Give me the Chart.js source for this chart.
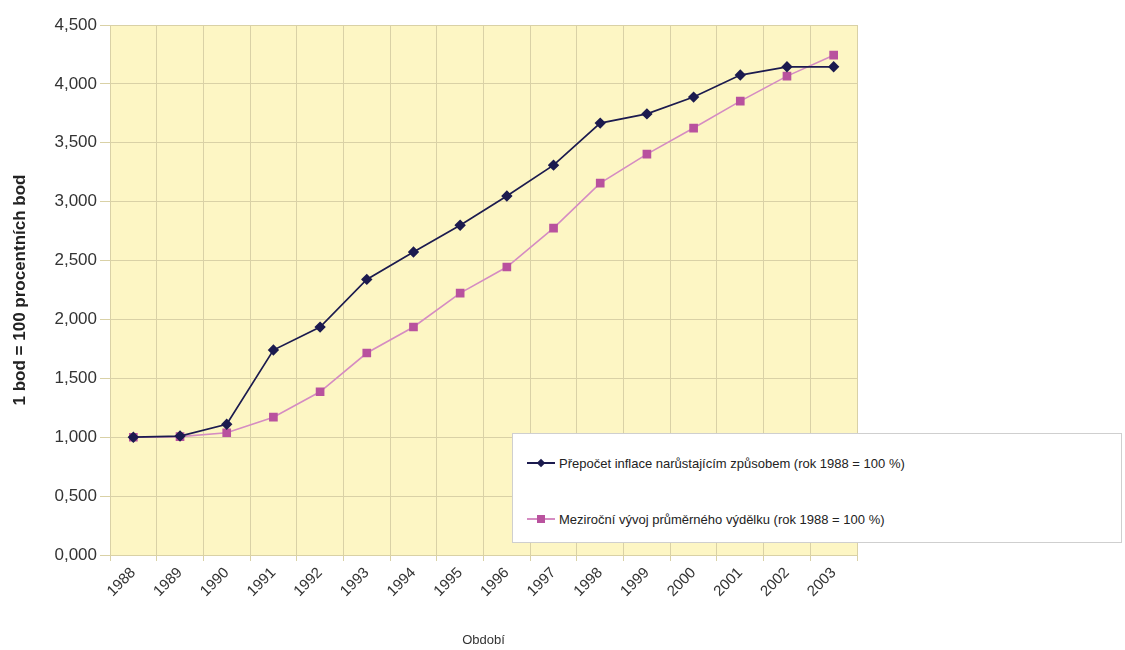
<!DOCTYPE html>
<html>
<head>
<meta charset="utf-8">
<script src="https://cdn.jsdelivr.net/npm/chart.js@4"></script>
<style>
  body { margin: 0; background: #fff; font-family: "Liberation Sans", Arial, sans-serif; }
  #wrap { position: relative; width: 1125px; height: 650px; }
  #legend {
    position: absolute; left: 512px; top: 433px; width: 610px; height: 110px;
    background: #fff; border: 1px solid #cfcfcf; box-sizing: border-box;
  }
  .item { position: absolute; left: 14px; height: 20px; display: flex; align-items: center; font-size: 13px; color: #222; }
  .sym { position: relative; width: 28px; height: 20px; margin-right: 4px; }
  .sym .ln { position: absolute; left: 0; right: 0; top: 9px; height: 2px; }
  .sym .mk { position: absolute; left: 10px; top: 6px; width: 8px; height: 8px; }
</style>
</head>
<body>
<div id="wrap">
  <canvas id="chart" width="1125" height="650"></canvas>
  <div id="legend"></div>
</div>
<script>
const years = ['1988', '1989', '1990', '1991', '1992', '1993', '1994', '1995',
               '1996', '1997', '1998', '1999', '2000', '2001', '2002', '2003'];
const inflaceLabel = 'Přepočet inflace narůstajícím způsobem (rok 1988 = 100 %)';
const inflace = [1.000, 1.010, 1.110, 1.740, 1.935, 2.340, 2.572, 2.800,
                 3.048, 3.310, 3.667, 3.745, 3.888, 4.075, 4.145, 4.145];
const vydelekLabel = 'Meziroční vývoj průměrného výdělku (rok 1988 = 100 %)';
const vydelek = [1.000, 1.005, 1.038, 1.170, 1.386, 1.715, 1.936, 2.224,
                 2.445, 2.776, 3.158, 3.404, 3.625, 3.854, 4.066, 4.244];
const yTitle = '1 bod = 100 procentních bod';
const xTitle = 'Období';

const navy = '#1c1b4f';
const pinkLine = '#d58cc2';
const pinkMark = '#b9529e';

const plotBackground = {
    id: 'plotBackground',
    beforeDraw(chart) {
        const a = chart.chartArea;
        const ctx = chart.ctx;
        ctx.save();
        ctx.fillStyle = '#fdf6c4';
        ctx.fillRect(a.left, a.top, a.right - a.left, a.bottom - a.top);
        ctx.restore();
    }
};

const ctx = document.getElementById('chart').getContext('2d');
const chart = new Chart(ctx, {
    type: 'line',
    data: {
        labels: years,
        datasets: [{
            label: inflaceLabel,
            data: inflace,
            borderColor: navy,
            backgroundColor: navy,
            borderWidth: 1.7,
            pointStyle: 'rectRot',
            pointRadius: 4.5,
            pointBackgroundColor: navy,
            pointBorderColor: navy,
            tension: 0
        }, {
            label: vydelekLabel,
            data: vydelek,
            borderColor: pinkLine,
            backgroundColor: pinkMark,
            borderWidth: 1.6,
            pointStyle: 'rect',
            pointRadius: 5,
            pointBackgroundColor: pinkMark,
            pointBorderColor: pinkMark,
            tension: 0
        }]
    },
    options: {
        responsive: false,
        animation: false,
        layout: { padding: { left: 6, right: 268, top: 25, bottom: 0 } },
        plugins: {
            legend: { display: false },
            tooltip: { enabled: false }
        },
        scales: {
            x: {
                offset: true,
                grid: { offset: true, color: '#d9d1a6', drawTicks: true, tickLength: 6 },
                border: { color: '#d9d1a6' },
                ticks: {
                    maxRotation: 45, minRotation: 45,
                    color: '#333', font: { family: 'Liberation Sans', size: 15 }
                },
                title: {
                    display: true, text: xTitle, color: '#333',
                    font: { family: 'Liberation Sans', size: 13 }, padding: { top: 12, bottom: 2 }
                },
                afterFit(s) { s.height = 95; }
            },
            y: {
                min: 0, max: 4.5,
                grid: { color: '#d9d1a6', tickLength: 10 },
                border: { color: '#d9d1a6' },
                ticks: {
                    stepSize: 0.5,
                    color: '#333', font: { family: 'Liberation Sans', size: 17 },
                    callback: v => v.toFixed(3).replace('.', ',')
                },
                title: {
                    display: true, text: yTitle, color: '#222',
                    font: { family: 'Liberation Sans', size: 17, weight: 'bold' }
                },
                afterFit(s) { s.width = 104; }
            }
        }
    },
    plugins: [plotBackground]
});

// legend drawn as a box that overlaps the plot, like the original
const legend = document.getElementById('legend');
chart.data.datasets.forEach((ds, i) => {
    const item = document.createElement('div');
    item.className = 'item';
    item.style.top = (i === 0 ? 19 : 75) + 'px';
    const sym = document.createElement('div');
    sym.className = 'sym';
    const ln = document.createElement('div');
    ln.className = 'ln';
    ln.style.background = ds.borderColor;
    const mk = document.createElement('div');
    mk.className = 'mk';
    mk.style.background = ds.pointBackgroundColor;
    if (ds.pointStyle === 'rectRot') {
        mk.style.transform = 'rotate(45deg) scale(0.75)';
    }
    sym.appendChild(ln);
    sym.appendChild(mk);
    const txt = document.createElement('span');
    txt.textContent = ds.label;
    item.appendChild(sym);
    item.appendChild(txt);
    legend.appendChild(item);
});
</script>
</body>
</html>
